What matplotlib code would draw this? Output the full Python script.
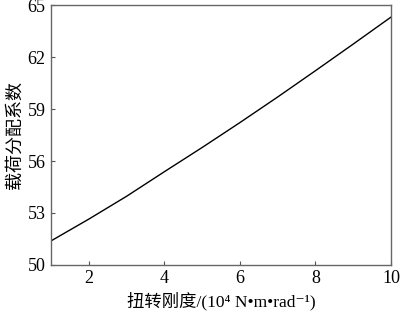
import matplotlib
matplotlib.use("Agg")
import matplotlib.pyplot as plt

x_values = [1, 2, 3, 4, 5, 6, 7, 8, 9, 10]
y_values = [51.38, 52.64, 53.96, 55.38, 56.78, 58.22, 59.70, 61.22, 62.76, 64.32]
x_ticks = [2, 4, 6, 8, 10]
y_ticks = [50, 53, 56, 59, 62, 65]
x_label = "扭转刚度/(10⁴ N•m•rad⁻¹)"
y_label = "载荷分配系数"

fam = ['Liberation Serif', 'Noto Sans CJK SC', 'DejaVu Serif']
plt.rcParams['font.family'] = fam

fig = plt.figure(figsize=(4.0, 3.13), dpi=100)
ax = fig.add_axes([0.1275, 0.154, 0.85, 0.829])
ax.plot(x_values, y_values, color='black', lw=1.0)
ax.set_xlim(1, 10)
ax.set_ylim(50, 65)
ax.set_xticks(x_ticks)
ax.set_yticks(y_ticks)
ax.tick_params(direction='in', length=3, width=0.8, color='#555555', labelsize=13, pad=4)
for s in ax.spines.values():
    s.set_color('#666666')
    s.set_linewidth(1.0)
ax.set_xlabel(x_label, fontsize=12.5, labelpad=3)
ax.set_ylabel(y_label, fontsize=13, labelpad=3)
fig.savefig("out.png", dpi=100)
